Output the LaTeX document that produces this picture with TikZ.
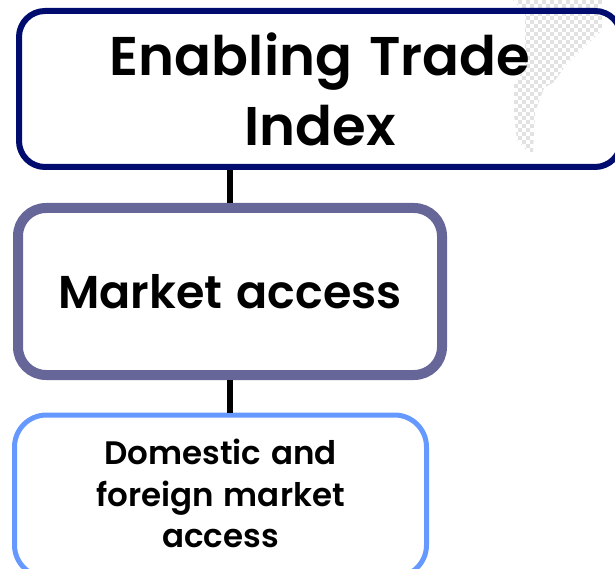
\documentclass[tikz,border=0pt]{standalone}
\usepackage{fontspec}
\setmainfont{Poppins}[BoldFont={Poppins SemiBold},WordSpace=1.3]
\definecolor{topnavy}{HTML}{000C6E}
\definecolor{midblue}{HTML}{666699}
\definecolor{lowblue}{HTML}{6699FF}
\definecolor{checkgray}{HTML}{E2E2E2}
\tikzset{
  box/.style={draw,rounded corners=#1,inner sep=0pt,align=center,font=\bfseries},
  link/.style={draw=black,line width=6.5pt}
}
\begin{document}
\begin{tikzpicture}[x=1pt,y=-1pt]
\useasboundingbox (0,0) rectangle (615,569);
\begin{scope}
\clip (513,0) -- (602,0) -- (602,30) -- (566,65) -- (554,82) -- (544,88) -- (535,112) -- (533,152) -- (528,152) -- (517,140) -- (514,115) -- (514,85) -- (525,68) -- (525,14) -- cycle;
\foreach \i in {0,...,24}{
  \foreach \j in {0,...,38}{
    \pgfmathparse{int(mod(\i+\j,2))}
    \ifnum\pgfmathresult=0
      \fill[checkgray] ({510+\i*4},{\j*4}) rectangle ++(4,4);
    \fi
  }
}
\end{scope}
\node[box=26pt,draw=topnavy,line width=6pt,minimum width=602pt,minimum height=156pt,font=\bfseries\fontsize{54.5}{70}\selectfont] (top) at (320,89) {\raisebox{-2pt}{Enabling Trade}\\\raisebox{-2pt}{Index}};
\node[box=28pt,draw=midblue,line width=10pt,minimum width=424pt,minimum height=167pt,font=\bfseries\fontsize{46}{52}\selectfont] (market) at (230,291.5) {\raisebox{-3pt}{Market access}};
\node[box=32pt,draw=lowblue,line width=5pt,minimum width=412pt,minimum height=162pt,font=\bfseries\fontsize{32.5}{41.5}\selectfont] (domestic) at (220.5,496) {\raisebox{5pt}{Domestic and}\\\raisebox{5pt}{foreign market}\\\raisebox{5pt}{access}};
\draw[link] (top.south -| market.north) -- (market.north);
\draw[link] (market.south) -- (market.south |- domestic.north);
\end{tikzpicture}
\end{document}
